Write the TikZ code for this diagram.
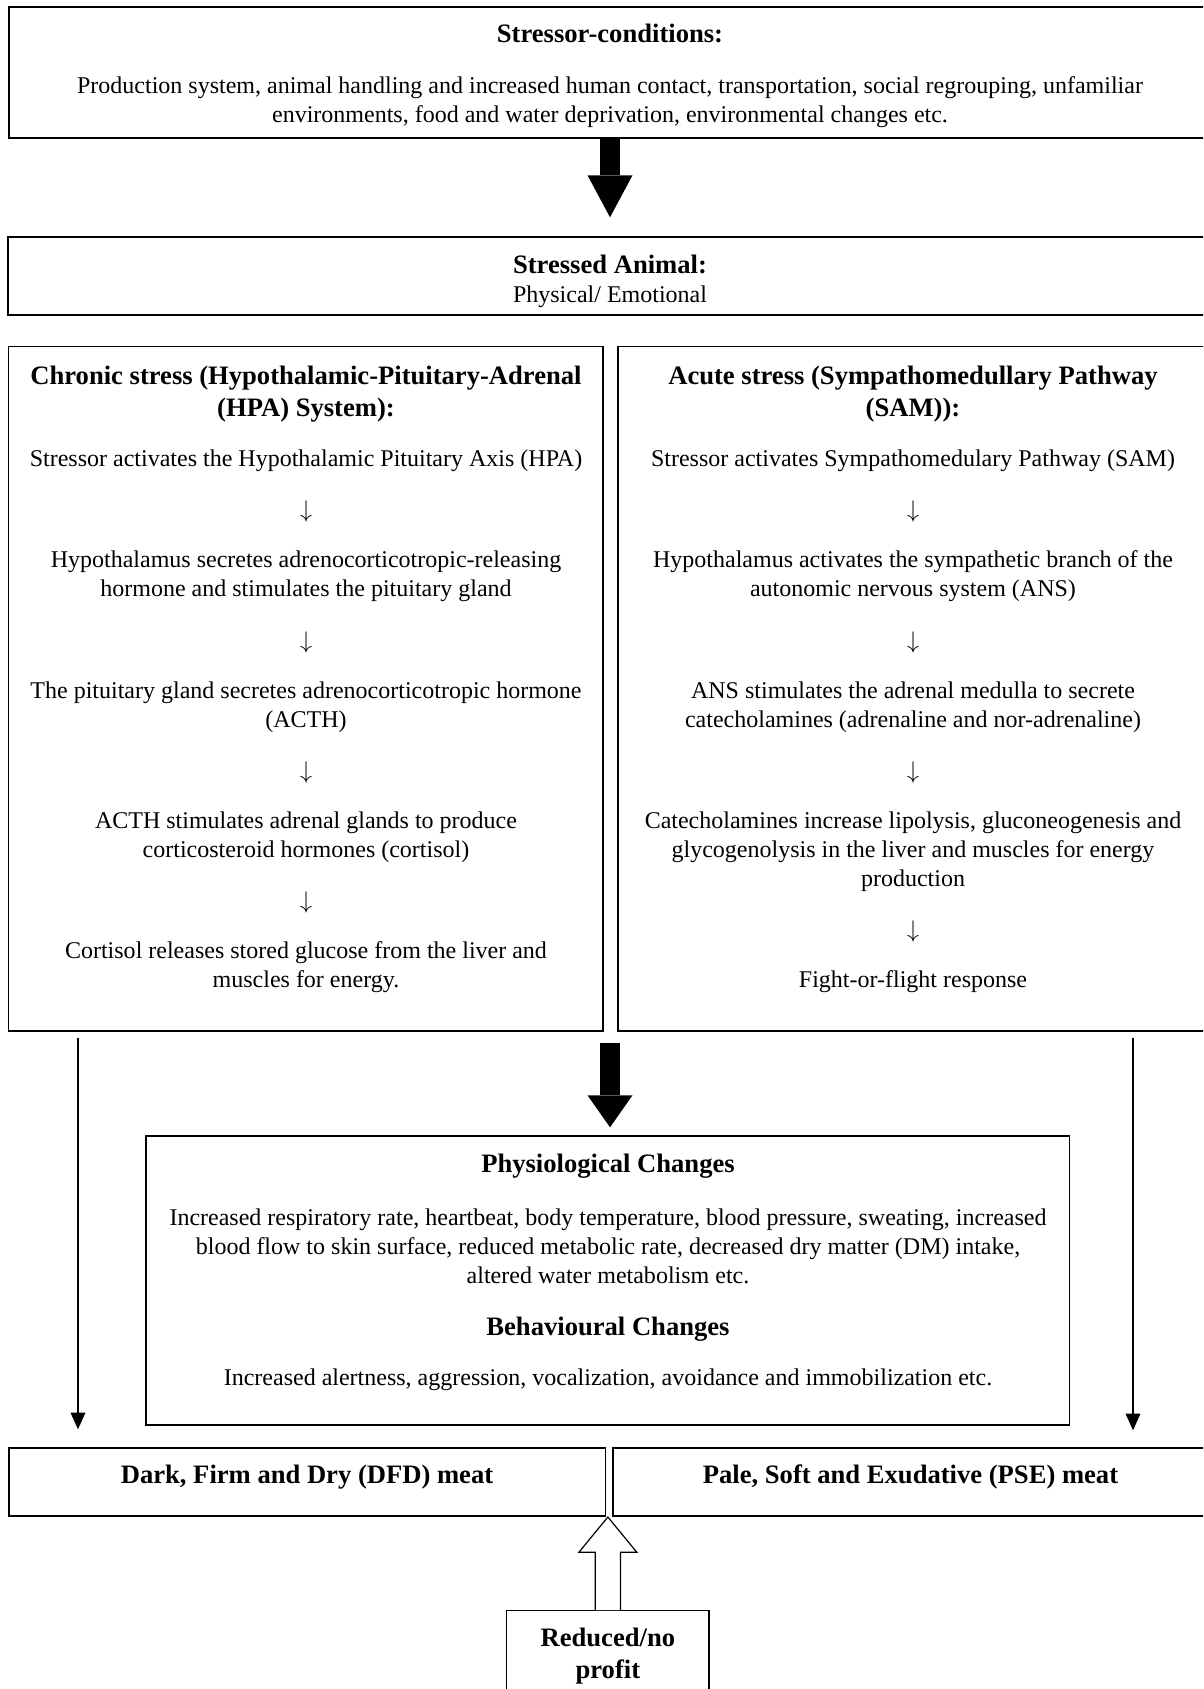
\documentclass[tikz,border=0pt]{standalone}
\usepackage{fontspec}
\setmainfont{Liberation Serif}
\usetikzlibrary{arrows.meta,fit}

\begin{document}
\begin{tikzpicture}[x=0.5pt,y=-0.5pt,
  box/.style={draw, line width=0.7pt, inner sep=0pt},
  txt/.style={align=center, inner sep=0pt, font=\fontsize{12pt}{14.5pt}\selectfont},
  head/.style={txt, font=\fontsize{13.3pt}{16.3pt}\selectfont\bfseries},
  bigarrow/.style={line width=10pt, -{Triangle[width=22.5pt,length=#1,line width=0pt]}},
  thinarrow/.style={line width=0.6pt, -{Triangle[width=7.3pt,length=8.3pt]}}]
\useasboundingbox (0,0) rectangle (1203,1689);
\clip (0,0) rectangle (1203,1689);

% boxes
\node[box, fit={(9,7) (1211,138)}] (stressor) {};
\node[box, fit={(8,237) (1212,315)}] (stressed) {};
\node[box, fit={(8.5,346.5) (603,1031)}] (chronic) {};
\node[box, fit={(618,346.5) (1208,1031)}] (acute) {};
\node[box, fit={(146,1136) (1069.3,1425)}] (phys) {};
\node[box, fit={(9,1448) (605.3,1516)}] (dfd) {};
\node[box, fit={(613,1448) (1208,1516)}] (pse) {};
\node[box, head, fit={(506.7,1610.7) (709,1720)}] (profit) {Reduced/no\\profit};

% top
\node[head] (stressorhead) at (610,33) {Stressor-conditions:};
\node[txt] (stressorlist) at (610,102) {Production system, animal handling and increased human contact, transportation, social regrouping, unfamiliar\\environments, food and water deprivation, environmental changes etc.};
\node[head] (stressedhead) at (610,264) {Stressed Animal:};
\node[txt] (stressedsub) at (610,297) {Physical/ Emotional};

% chronic stress
\node[head] (chronichead) at (306,394) {Chronic stress (Hypothalamic-Pituitary-Adrenal\\(HPA) System):};
\node[txt] (hpa1) at (306,461) {Stressor activates the Hypothalamic Pituitary Axis (HPA)};
\node[txt] (hpadown1) at (306,511) {$\downarrow$};
\node[txt] (hpa2) at (306,576.5) {Hypothalamus secretes adrenocorticotropic-releasing\\hormone and stimulates the pituitary gland};
\node[txt] (hpadown2) at (306,642) {$\downarrow$};
\node[txt] (hpa3) at (306,707) {The pituitary gland secretes adrenocorticotropic hormone\\(ACTH)};
\node[txt] (hpadown3) at (306,772) {$\downarrow$};
\node[txt] (hpa4) at (306,837) {ACTH stimulates adrenal glands to produce\\corticosteroid hormones (cortisol)};
\node[txt] (hpadown4) at (306,902) {$\downarrow$};
\node[txt] (hpa5) at (306,967.5) {Cortisol releases stored glucose from the liver and\\muscles for energy.};

% acute stress
\node[head] (acutehead) at (913,394) {Acute stress (Sympathomedullary Pathway\\(SAM)):};
\node[txt] (sam1) at (913,461) {Stressor activates Sympathomedulary Pathway (SAM)};
\node[txt] (samdown1) at (913,511) {$\downarrow$};
\node[txt] (sam2) at (913,576.5) {Hypothalamus activates the sympathetic branch of the\\autonomic nervous system (ANS)};
\node[txt] (samdown2) at (913,642) {$\downarrow$};
\node[txt] (sam3) at (913,707) {ANS stimulates the adrenal medulla to secrete\\catecholamines (adrenaline and nor-adrenaline)};
\node[txt] (samdown3) at (913,772) {$\downarrow$};
\node[txt] (sam4) at (913,852) {Catecholamines increase lipolysis, gluconeogenesis and\\glycogenolysis in the liver and muscles for energy\\production};
\node[txt] (samdown4) at (913,931.5) {$\downarrow$};
\node[txt] (sam5) at (913,982) {Fight-or-flight response};

% changes
\node[head] (physhead) at (608,1166) {Physiological Changes};
\node[txt] (physlist) at (608,1246) {Increased respiratory rate, heartbeat, body temperature, blood pressure, sweating, increased\\blood flow to skin surface, reduced metabolic rate, decreased dry matter (DM) intake,\\altered water metabolism etc.};
\node[head] (behavhead) at (608,1329) {Behavioural Changes};
\node[txt] (behavlist) at (608,1379.5) {Increased alertness, aggression, vocalization, avoidance and immobilization etc.};

% meat
\node[head] (dfdtext) at (307,1477) {Dark, Firm and Dry (DFD) meat};
\node[head] (psetext) at (910.5,1477) {Pale, Soft and Exudative (PSE) meat};

% arrows
\coordinate (split) at (610,1031);
\coordinate (dfdline) at (78,1031);
\coordinate (pseline) at (1133,1031);
\draw[bigarrow=21pt, shorten >=9.5pt] (stressor) -- (stressed);
\draw[bigarrow=16pt, shorten <=6pt, shorten >=4pt] (split) -- (split |- phys.north);
\draw[thinarrow, shorten <=3.4pt, shorten >=9pt] (dfdline) -- (dfdline |- dfd.north);
\draw[thinarrow, shorten <=3.4pt, shorten >=8.5pt] (pseline) -- (pseline |- pse.north);
\draw[line width=0.6pt, fill=white] (profit.north) ++(-12.7,0) -- ++(0,-57.7) -- ++(-16.3,0) -- ++(29,-35.3) -- ++(29,35.3) -- ++(-16.3,0) -- ++(0,57.7);
\end{tikzpicture}
\end{document}
